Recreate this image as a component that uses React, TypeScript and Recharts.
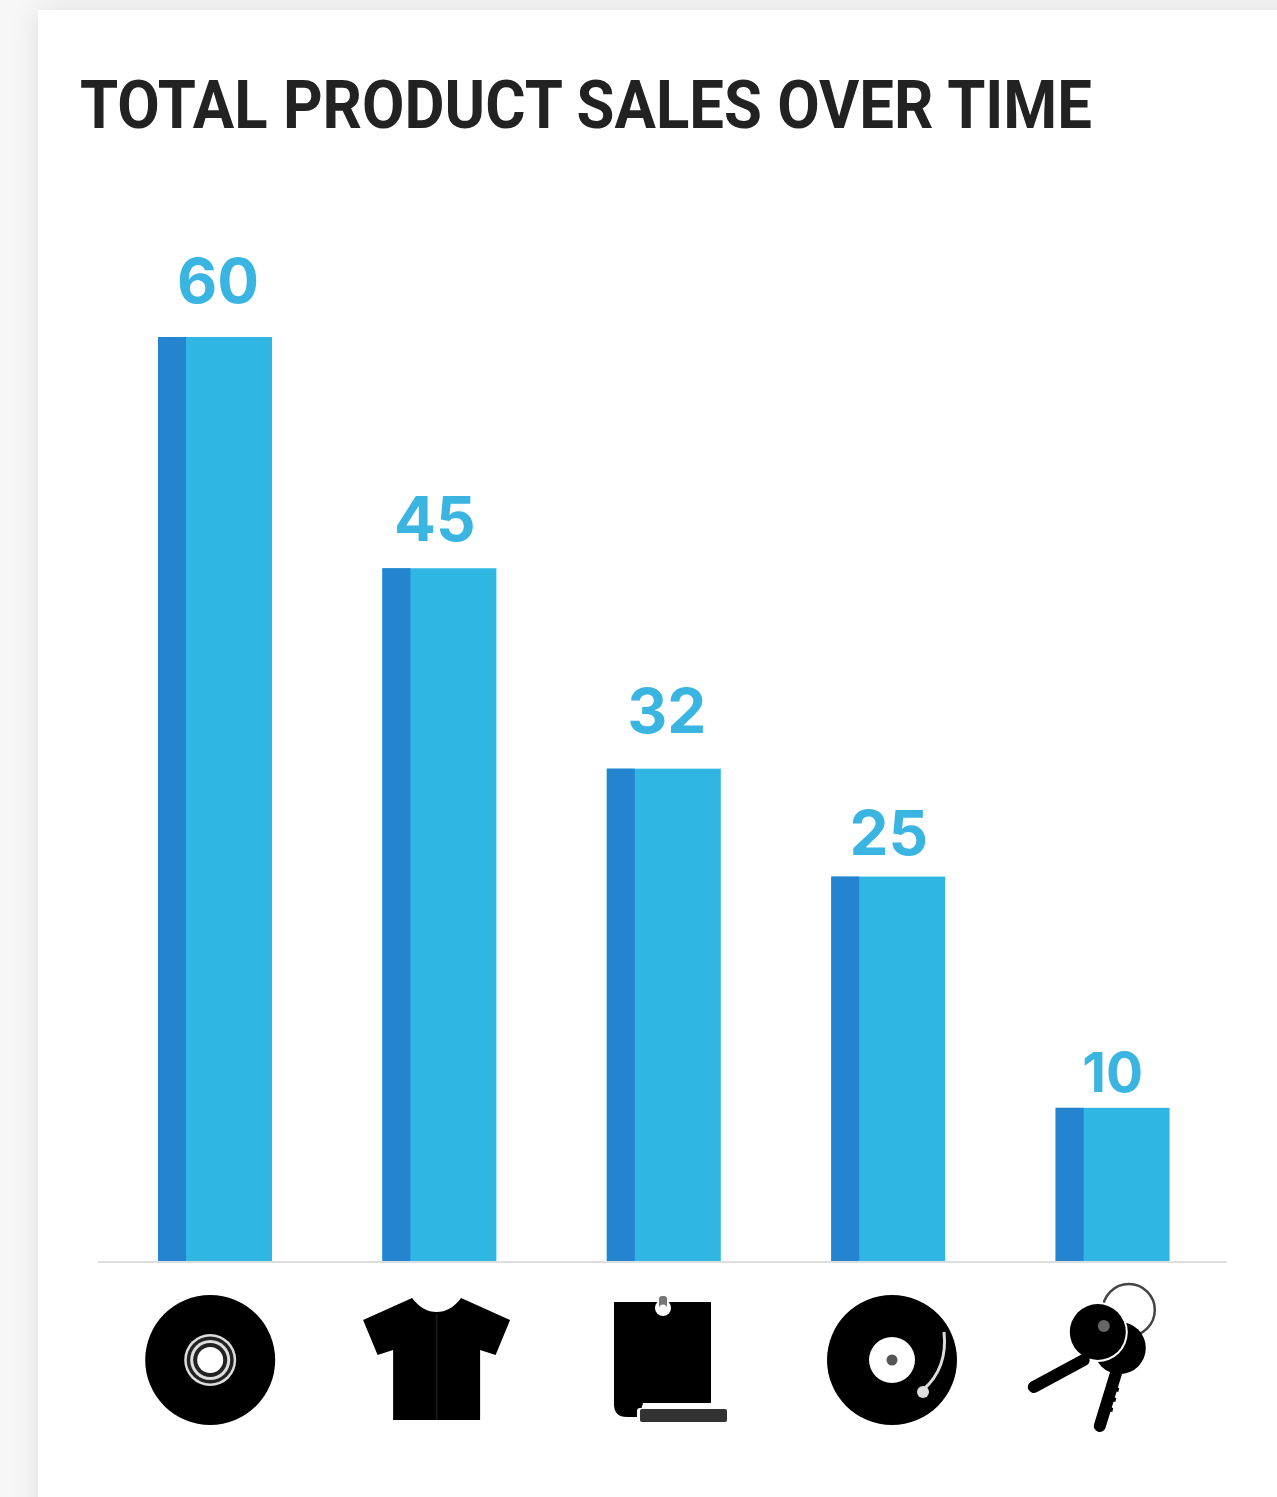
import React from "react";
import { BarChart, Bar, XAxis, YAxis, LabelList } from "recharts";

const categories = ["CD", "T-shirt", "Tablet", "Vinyl", "Keys"];
const sales = [60, 45, 32, 25, 10];
const titleText = "TOTAL PRODUCT SALES OVER TIME";

const rows = categories.map((category, i) => ({ category, sales: sales[i] }));

const LIGHT = "#30b6e3";
const DARK = "#2484cf";
const EDGE_WIDTH = 28;

// One bar: a light body with a darker strip down its left edge.
function EdgedBar(props: any) {
  const { x, y, width, height } = props;
  return (
    <g>
      <rect x={x} y={y} width={width} height={height} fill={LIGHT} />
      <rect x={x} y={y} width={EDGE_WIDTH} height={height} fill={DARK} />
    </g>
  );
}

// Hand-set nudges for the value labels, per bar position.
const labelPlacement: Record<number, { dx: number; lift: number; size: number }> = {
  0: { dx: 3, lift: 34, size: 62 },
  1: { dx: -4.6, lift: 27, size: 62 },
  2: { dx: 3, lift: 36, size: 62 },
  3: { dx: 0.6, lift: 22, size: 62 },
  4: { dx: 0, lift: 16, size: 55 },
};

function ValueLabel(props: any) {
  const { x, y, width, value, index } = props;
  const p = labelPlacement[index];
  return (
    <text
      x={x + width / 2 + p.dx}
      y={y - p.lift}
      textAnchor="middle"
      fill="#3ab5e2"
      fontFamily="Inter, sans-serif"
      fontWeight={700}
      fontSize={p.size}
    >
      {value}
    </text>
  );
}

const DiscIcon = () => (
  <g transform="translate(-5 98)">
    <circle r={65} fill="#000" />
    <circle r={26} fill="#ddd" />
    <circle r={23.5} fill="#222" />
    <circle r={20} fill="#ddd" />
    <circle r={17} fill="#222" />
    <circle r={13} fill="#fff" />
  </g>
);

const TeeIcon = () => (
  <g transform="translate(-3 0)">
    <path
      d="M-24.5 36 Q-14 50 0 50 Q14 50 24.5 36 L73.5 58 L59 93 L43.5 88 L43.5 158 L-43.5 158 L-43.5 88 L-59 93 L-73.5 58 Z"
      fill="#000"
    />
    <line x1={0} y1={52} x2={0} y2={158} stroke="#1c1c1c" strokeWidth={1.5} />
  </g>
);

const TabletIcon = () => (
  <g transform="translate(-1 0)">
    <path
      d="M-49 40 L48 40 L48 141 L-20 141 L-24 155 L-36 155 Q-49 155 -49 142 Z"
      fill="#000"
    />
    <circle cx={0} cy={46} r={8} fill="#fff" />
    <rect x={-4} y={34} width={8} height={12} rx={3} fill="#777" />
    <circle cx={0} cy={46} r={3.5} fill="#fff" />
    <rect x={-26} y={146} width={90} height={15} rx={3} fill="#fff" />
    <rect x={-23} y={147} width={87} height={13} rx={2} fill="#333" />
  </g>
);

const TurntableIcon = () => (
  <g transform="translate(3.6 98)">
    <circle r={65} fill="#000" />
    <circle r={23} fill="#fff" />
    <circle r={5.5} fill="#555" />
    <path d="M52 -28 Q56 8 31 30" fill="none" stroke="#ddd" strokeWidth={3} />
    <circle cx={31} cy={32} r={6} fill="#ddd" />
  </g>
);

const KeysIcon = () => (
  <g transform="translate(1 2)">
    <circle cx={15} cy={46} r={26} fill="none" stroke="#444" strokeWidth={2.5} />
    <circle cx={6} cy={84} r={26} fill="#000" />
    <path
      d="M5 100 L-14 162"
      stroke="#000"
      strokeWidth={12}
      strokeLinecap="round"
    />
    <path
      d="M-3 124 L5 126 M-6 134 L2 136 M-9 144 L-1 146"
      stroke="#000"
      strokeWidth={4}
    />
    <circle cx={-16} cy={68} r={30} fill="#fff" />
    <circle cx={-16} cy={68} r={28} fill="#000" />
    <circle cx={-10} cy={62} r={6} fill="#666" />
    <path
      d="M-30 96 L-80 123"
      stroke="#000"
      strokeWidth={12}
      strokeLinecap="round"
    />
  </g>
);

const icons: Record<string, () => React.ReactElement> = {
  CD: DiscIcon,
  "T-shirt": TeeIcon,
  Tablet: TabletIcon,
  Vinyl: TurntableIcon,
  Keys: KeysIcon,
};

// Category axis tick: a pictogram in place of a text label.
function IconTick(props: any) {
  const { x, y, payload } = props;
  const Icon = icons[payload.value];
  return (
    <g transform={`translate(${x} ${y})`}>
      <Icon />
    </g>
  );
}

export default function App() {
  return (
    <div
      style={{
        position: "absolute",
        left: 0,
        top: 0,
        width: 1277,
        height: 1497,
        overflow: "hidden",
        background: "#f7f7f7",
      }}
    >
      <div
        style={{
          position: "absolute",
          left: 38,
          top: 10,
          width: 1300,
          height: 1540,
          background: "#fff",
          boxShadow: "0 0 28px rgba(0,0,0,0.10)",
        }}
      />
      <svg
        width={1277}
        height={200}
        style={{ position: "absolute", left: 0, top: 0 }}
      >
        <text
          x={80}
          y={128}
          fontFamily="Roboto, sans-serif"
          fontWeight={700}
          fontSize={66}
          fill="#222"
          textLength={1012}
          lengthAdjust="spacingAndGlyphs"
        >
          {titleText}
        </text>
      </svg>
      <div style={{ position: "absolute", left: 0, top: 0 }}>
        <BarChart
          width={1277}
          height={1497}
          data={rows}
          margin={{ top: 337, right: 50, bottom: 0, left: 98 }}
          barSize={114}
        >
          <YAxis hide domain={[0, 60]} />
          <XAxis
            dataKey="category"
            height={235}
            padding={{ left: 5, right: 2 }}
            axisLine={{ stroke: "#dedede", strokeWidth: 2 }}
            tickLine={false}
            tickSize={0}
            tickMargin={0}
            interval={0}
            tick={<IconTick />}
          />
          <Bar dataKey="sales" isAnimationActive={false} shape={<EdgedBar />}>
            <LabelList dataKey="sales" content={<ValueLabel />} />
          </Bar>
        </BarChart>
      </div>
    </div>
  );
}
